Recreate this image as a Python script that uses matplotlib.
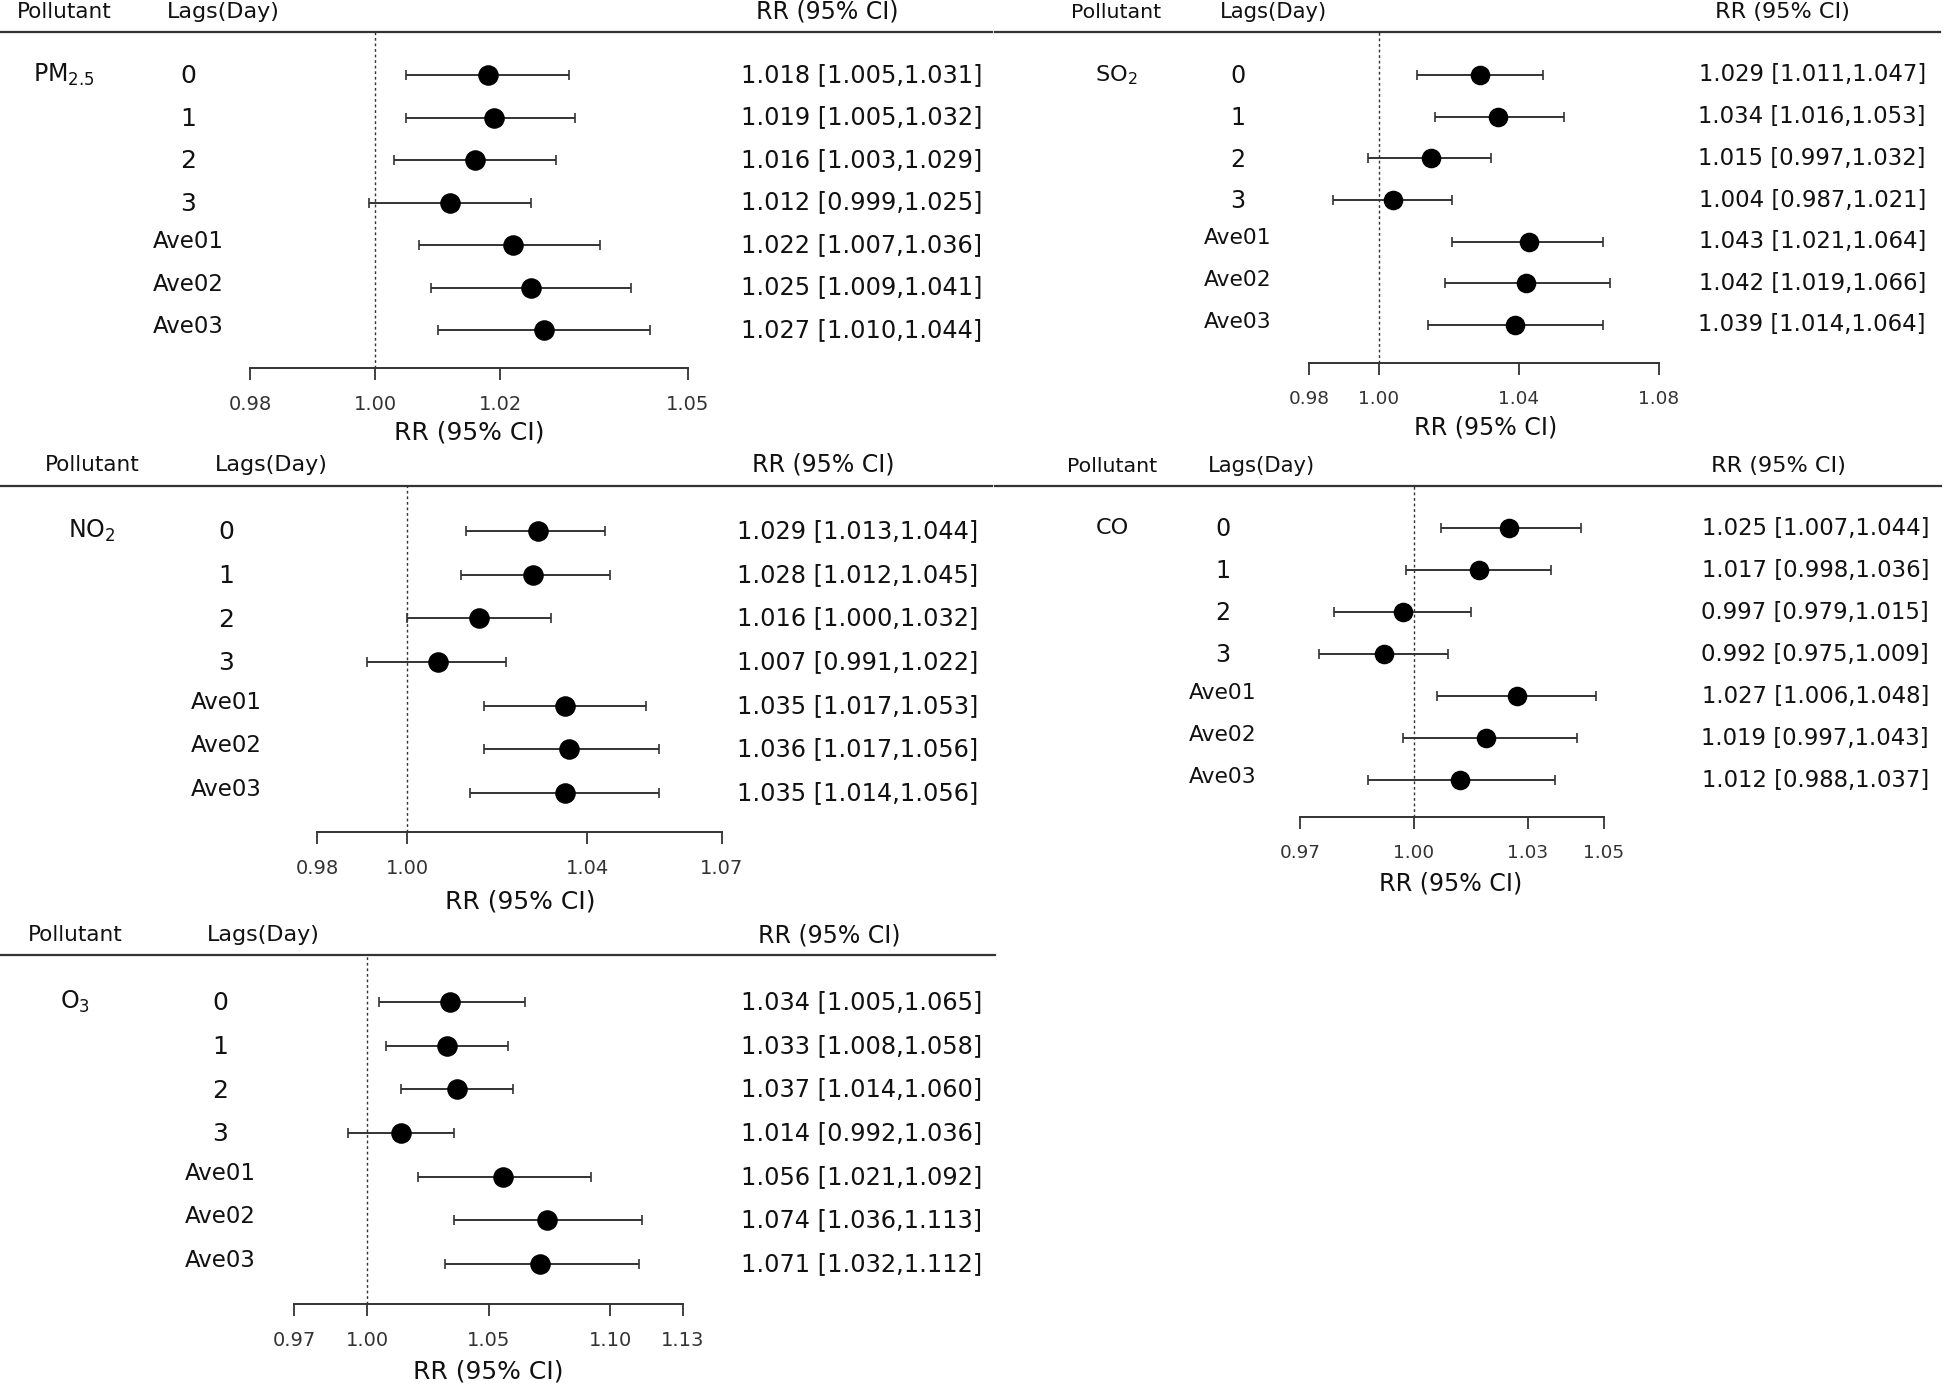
import matplotlib
matplotlib.use("Agg")
import matplotlib.pyplot as plt
import matplotlib.transforms as mtransforms
from matplotlib.lines import Line2D
import numpy as np

plt.rcParams['font.family'] = ['DejaVu Sans']

# data
lags = ['0', '1', '2', '3', 'Ave01', 'Ave02', 'Ave03']
pollutants = [r'PM$_{2.5}$', r'SO$_2$', r'NO$_2$', 'CO', r'O$_3$']

pm25_rr = [1.018, 1.019, 1.016, 1.012, 1.022, 1.025, 1.027]
pm25_lo = [1.005, 1.005, 1.003, 0.999, 1.007, 1.009, 1.010]
pm25_hi = [1.031, 1.032, 1.029, 1.025, 1.036, 1.041, 1.044]

so2_rr = [1.029, 1.034, 1.015, 1.004, 1.043, 1.042, 1.039]
so2_lo = [1.011, 1.016, 0.997, 0.987, 1.021, 1.019, 1.014]
so2_hi = [1.047, 1.053, 1.032, 1.021, 1.064, 1.066, 1.064]

no2_rr = [1.029, 1.028, 1.016, 1.007, 1.035, 1.036, 1.035]
no2_lo = [1.013, 1.012, 1.000, 0.991, 1.017, 1.017, 1.014]
no2_hi = [1.044, 1.045, 1.032, 1.022, 1.053, 1.056, 1.056]

co_rr = [1.025, 1.017, 0.997, 0.992, 1.027, 1.019, 1.012]
co_lo = [1.007, 0.998, 0.979, 0.975, 1.006, 0.997, 0.988]
co_hi = [1.044, 1.036, 1.015, 1.009, 1.048, 1.043, 1.037]

o3_rr = [1.034, 1.033, 1.037, 1.014, 1.056, 1.074, 1.071]
o3_lo = [1.005, 1.008, 1.014, 0.992, 1.021, 1.036, 1.032]
o3_hi = [1.065, 1.058, 1.060, 1.036, 1.092, 1.113, 1.112]

pm25_ticks = [0.98, 1.00, 1.02, 1.05]
so2_ticks = [0.98, 1.00, 1.04, 1.08]
no2_ticks = [0.98, 1.00, 1.04, 1.07]
co_ticks = [0.97, 1.00, 1.03, 1.05]
o3_ticks = [0.97, 1.00, 1.05, 1.10, 1.13]

series = [(pm25_rr, pm25_lo, pm25_hi, pm25_ticks),
          (so2_rr, so2_lo, so2_hi, so2_ticks),
          (no2_rr, no2_lo, no2_hi, no2_ticks),
          (co_rr, co_lo, co_hi, co_ticks),
          (o3_rr, o3_lo, o3_hi, o3_ticks)]

# layout of each panel in pixels (figure is 1946x1390)
layout = [
    dict(pol=64, lag=188, hlag=223, hrr=827, vr=982, hy=12, ly=32, lx=(0, 992),
         r0=75, r6=330, ref=375, sc=6250, ay=368, xl=(469, 433), s=1.0),
    dict(pol=1116, lag=1238, hlag=1273, hrr=1782, vr=1926, hy=12, ly=32, lx=(995, 1940),
         r0=75, r6=325, ref=1379, sc=3500, ay=363, xl=(1486, 428), s=0.95),
    dict(pol=92, lag=226, hlag=271, hrr=823, vr=978, hy=465, ly=486, lx=(0, 992),
         r0=531, r6=793, ref=407, sc=4500, ay=832, xl=(520, 902), s=1.0),
    dict(pol=1112, lag=1223, hlag=1261, hrr=1778, vr=1929, hy=466, ly=486, lx=(995, 1941),
         r0=528, r6=780, ref=1414, sc=3800, ay=817, xl=(1451, 883), s=0.95),
    dict(pol=75, lag=220, hlag=263, hrr=829, vr=982, hy=935, ly=955, lx=(0, 995),
         r0=1002, r6=1264, ref=367, sc=2430, ay=1304, xl=(488, 1372), s=1.0),
]

W, H = 1946, 1390
fig = plt.figure(figsize=(W / 100, H / 100), dpi=100)
fig.patch.set_facecolor('white')


def fx(x):
    return x / W


def fy(y):
    return 1 - y / H


for name, (rr, lo, hi, ticks), L in zip(pollutants, series, layout):
    s = L['s']
    x_lo = L['ref'] + L['sc'] * (ticks[0] - 1.0)
    x_hi = L['ref'] + L['sc'] * (ticks[-1] - 1.0)
    ax = fig.add_axes([fx(x_lo), fy(L['ay']), (x_hi - x_lo) / W, (L['ay'] - L['ly']) / H])
    ax.set_xlim(ticks[0], ticks[-1])
    sp = (L['r6'] - L['r0']) / 6
    ax.set_ylim((L['ay'] - L['r0']) / sp, (L['ly'] - L['r0']) / sp)

    rows = np.arange(len(rr))
    rr_a = np.array(rr)
    err = [rr_a - np.array(lo), np.array(hi) - rr_a]
    ax.errorbar(rr_a, rows, xerr=err, fmt='o', color='black', ecolor='#333333',
                elinewidth=1.4, capsize=3.3, capthick=1.2, markersize=13.8 * s,
                clip_on=False, zorder=3)
    ax.axvline(1.0, color='#333333', ls=(0, (2, 2)), lw=1.0, zorder=1)

    for sp_name in ['top', 'left', 'right']:
        ax.spines[sp_name].set_visible(False)
    ax.spines['bottom'].set_bounds(ticks[0], ticks[-1])
    ax.spines['bottom'].set_linewidth(1.4)
    ax.spines['bottom'].set_color('#333333')
    ax.set_yticks([])
    ax.set_xticks(ticks)
    ax.set_xticklabels(['%.2f' % t for t in ticks])
    ax.tick_params(axis='x', direction='out', length=8.5, width=1.3, color='#333333',
                   labelsize=14 * s, pad=11, labelcolor='#333333')
    ax.patch.set_alpha(0)

    trans = mtransforms.blended_transform_factory(fig.transFigure, ax.transData)
    for i, lab in enumerate(lags):
        if lab.isdigit():
            ax.text(fx(L['lag']), i + 0.03, lab, transform=trans, ha='center', va='center',
                    fontsize=18 * s, color='#111111')
        else:
            ax.text(fx(L['lag']), i - 0.08, lab, transform=trans, ha='center', va='center',
                    fontsize=16.5 * s, color='#111111')
        ax.text(fx(L['vr']), i, '%.3f [%.3f,%.3f]' % (rr[i], lo[i], hi[i]), transform=trans,
                ha='right', va='center', fontsize=17.3 * s, color='#111111')
    ax.text(fx(L['pol']), 0, name, transform=trans, ha='center', va='center',
            fontsize=17 * s, color='#111111')

    # header row
    fig.text(fx(L['pol']), fy(L['hy']), 'Pollutant', ha='center', va='center',
             fontsize=15.5 * s, color='#111111')
    fig.text(fx(L['hlag']), fy(L['hy']), 'Lags(Day)', ha='center', va='center',
             fontsize=16 * s, color='#111111')
    fig.text(fx(L['hrr']), fy(L['hy']), 'RR (95% CI)', ha='center', va='center',
             fontsize=17 * s, color='#111111')
    fig.add_artist(Line2D([fx(L['lx'][0]), fx(L['lx'][1])], [fy(L['ly']), fy(L['ly'])],
                          color='#333333', lw=1.6))
    fig.text(fx(L['xl'][0]), fy(L['xl'][1]), 'RR (95% CI)', ha='center', va='center',
             fontsize=18 * s, color='#111111')

fig.savefig('out.png', dpi=100, facecolor='white')
